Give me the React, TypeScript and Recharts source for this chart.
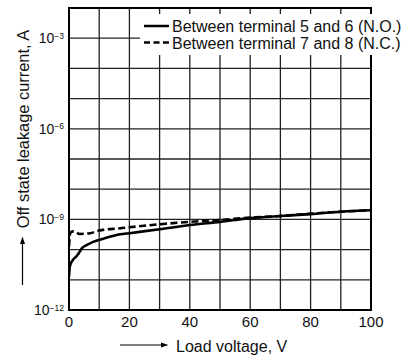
import React from 'react';
import { LineChart, Line, XAxis, YAxis, CartesianGrid, Legend, ReferenceArea, Label } from 'recharts';

const voltageNO = [0, 0.3, 1.2, 2.5, 3.5, 4.3, 5.8, 8, 11.4, 17, 20, 30, 40, 50, 60, 70, 80, 90, 100];
const currentNO = [1.26e-11, 2.8e-11, 4.4e-11, 6.0e-11, 8.3e-11, 1.12e-10, 1.4e-10, 1.8e-10, 2.3e-10, 3.2e-10, 3.5e-10, 4.7e-10, 6.5e-10, 8.3e-10, 1.1e-9, 1.3e-9, 1.5e-9, 1.8e-9, 2.0e-9];
const voltageNC = [0, 0.5, 1.5, 3.5, 7, 10, 17, 20, 30, 40, 50, 60, 70, 80, 90, 100];
const currentNC = [1.3e-10, 3.8e-10, 4.0e-10, 3.3e-10, 3.5e-10, 4.3e-10, 5.1e-10, 5.5e-10, 6.9e-10, 8.3e-10, 9.6e-10, 1.15e-9, 1.3e-9, 1.55e-9, 1.8e-9, 2.0e-9];

const xTicks = [0, 10, 20, 30, 40, 50, 60, 70, 80, 90, 100];
const xTickLabels = [0, 20, 40, 60, 80, 100];
const yExponents = [-12, -11, -10, -9, -8, -7, -6, -5, -4, -3, -2];
const yLabelExponents = [-12, -9, -6, -3];

const seriesNames = ['Between terminal 5 and 6 (N.O.)', 'Between terminal 7 and 8 (N.C.)'];
const xTitle = 'Load voltage, V';
const yTitle = 'Off state leakage current, A';

const FONT = '"Liberation Sans", Arial, Helvetica, sans-serif';

const dataNO = voltageNO.map((v, i) => ({ v, i: currentNO[i] }));
const dataNC = voltageNC.map((v, i) => ({ v, i: currentNC[i] }));
const yTicks = yExponents.map((e) => Math.pow(10, e));

const XTick = (props: any) => {
  const { x, payload } = props;
  if (!xTickLabels.includes(payload.value)) return <g />;
  return (
    <text x={x} y={327} textAnchor="middle" fontFamily={FONT} fontSize={15} fill="#111">
      {payload.value}
    </text>
  );
};

const YTick = (props: any) => {
  const { y, payload } = props;
  const e = Math.round(Math.log10(payload.value));
  if (!yLabelExponents.includes(e)) return <g />;
  return (
    <text x={64} y={y + 5} textAnchor="end" fontFamily={FONT} fontSize={14} fill="#111">
      <tspan>10</tspan>
      <tspan dy={-4.5} fontSize={8.5}>{'\u2212' + Math.abs(e)}</tspan>
    </text>
  );
};

const XTitle = () => (
  <g>
    <line x1={120} y1={345} x2={163} y2={345} stroke="#000" strokeWidth={1.2} />
    <polygon points="168.5,345 161,342.5 161,347.5" fill="#000" />
    <text x={176} y={352} fontFamily={FONT} fontSize={16} fill="#111">{xTitle}</text>
  </g>
);

const YTitle = () => (
  <g>
    <line x1={22.5} y1={285} x2={22.5} y2={242} stroke="#000" strokeWidth={1.2} />
    <polygon points="22.5,236.5 20,244 25,244" fill="#000" />
    <text x={29} y={129} textAnchor="middle" transform="rotate(-90 29 129)" fontFamily={FONT} fontSize={16.4} fill="#111">{yTitle}</text>
  </g>
);

const LegendContent = () => (
  <svg width={264} height={41} style={{ display: 'block' }}>
    <line x1={4} y1={12} x2={29} y2={12} stroke="#000" strokeWidth={2.5} />
    <text x={32} y={18} fontFamily={FONT} fontSize={16} fill="#111">{seriesNames[0]}</text>
    <line x1={4} y1={28.5} x2={29} y2={28.5} stroke="#000" strokeWidth={2.5} strokeDasharray="6 3.5" />
    <text x={32} y={34.5} fontFamily={FONT} fontSize={16} fill="#111">{seriesNames[1]}</text>
  </svg>
);

export default function App() {
  return (
    <div style={{ position: 'absolute', left: 0, top: 0, width: 418, height: 356, background: '#fff' }}>
      <LineChart width={418} height={356} margin={{ top: 8, right: 47, bottom: 0, left: 0 }}>
        <CartesianGrid stroke="#222" strokeWidth={1.3} horizontal vertical />
        <XAxis
          dataKey="v"
          type="number"
          domain={[0, 100]}
          ticks={xTicks}
          interval={0}
          height={46}
          tick={<XTick />}
          tickLine={false}
          axisLine={false}
          allowDataOverflow
        >
          <Label content={<XTitle />} />
        </XAxis>
        <YAxis
          dataKey="i"
          type="number"
          scale="log"
          domain={[1e-12, 1e-2]}
          ticks={yTicks}
          interval={0}
          width={69}
          tick={<YTick />}
          tickLine={false}
          axisLine={false}
          allowDataOverflow
        >
          <Label content={<YTitle />} />
        </YAxis>
        <ReferenceArea x1={0} x2={100} y1={1e-12} y2={1e-2} fill="none" stroke="#000" strokeWidth={2} ifOverflow="visible" />
        <Line data={dataNO} dataKey="i" type="monotone" stroke="#000" strokeWidth={2.6} dot={false} isAnimationActive={false} />
        <Line data={dataNC} dataKey="i" type="monotone" stroke="#000" strokeWidth={2.6} strokeDasharray="7 3.5" dot={false} isAnimationActive={false} />
        <Legend
          layout="vertical"
          align="center"
          verticalAlign="middle"
          content={<LegendContent />}
          wrapperStyle={{ left: 140, top: 14, width: 264, height: 41, background: '#fff' }}
        />
      </LineChart>
    </div>
  );
}
